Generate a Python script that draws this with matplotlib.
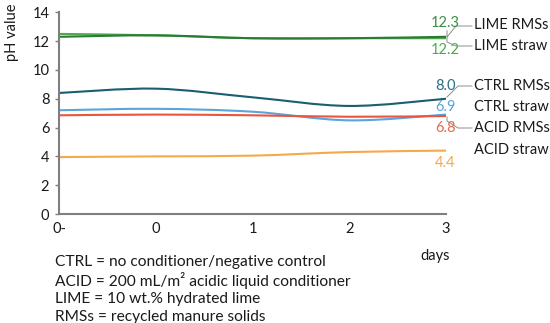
import numpy as np
import matplotlib.pyplot as plt
from matplotlib.path import Path
from matplotlib.patches import PathPatch

plt.rcParams['font.family'] = ['Lato', 'DejaVu Sans']

# Données
jours = ["0-", "0", "1", "2", "3"]
lime_rmss = [12.3, 12.4, 12.2, 12.2, 12.3]
lime_straw = [12.5, 12.4, 12.2, 12.2, 12.2]
ctrl_rmss = [8.4, 8.7, 8.1, 7.5, 8.0]
ctrl_straw = [7.2, 7.3, 7.1, 6.5, 6.9]
acid_rmss = [6.85, 6.9, 6.85, 6.75, 6.8]
acid_straw = [3.95, 4.0, 4.05, 4.3, 4.4]
noms = ["LIME straw", "LIME RMSs", "CTRL RMSs", "CTRL straw", "ACID RMSs", "ACID straw"]
series = [lime_straw, lime_rmss, ctrl_rmss, ctrl_straw, acid_rmss, acid_straw]

couleurs = ["#4daa50", "#2b7a35", "#1b5e70", "#5ba4dc", "#e9553f", "#f7a849"]
couleurs_val = ["#4daa50", "#3a8f48", "#2a6d85", "#5ba4dc", "#e66a4c", "#f5a845"]

# position verticale des étiquettes (pixels depuis le haut)
y_val = {"LIME RMSs": 23, "LIME straw": 50, "CTRL RMSs": 86, "CTRL straw": 107,
         "ACID RMSs": 128, "ACID straw": 163}
y_nom = {"LIME RMSs": 25, "LIME straw": 46, "CTRL RMSs": 86, "CTRL straw": 107,
         "ACID RMSs": 128, "ACID straw": 150}


def courbe_lisse(xs, ys):
    # Bézier façon "ligne lissée" d'Excel
    pts = np.column_stack([xs, ys]).astype(float)
    n = len(pts)
    verts = [pts[0]]
    codes = [Path.MOVETO]
    for i in range(n - 1):
        p0 = pts[max(i - 1, 0)]
        p1 = pts[i]
        p2 = pts[i + 1]
        p3 = pts[min(i + 2, n - 1)]
        c1 = p1 + (p2 - p0) / 6
        c2 = p2 - (p3 - p1) / 6
        verts += [c1, c2, p2]
        codes += [Path.CURVE4] * 3
    return Path(verts, codes)


fig = plt.figure(figsize=(5.5, 3.23), dpi=100)
ax = fig.add_axes([59 / 550, 1 - 214 / 323, 387 / 550, 201.7 / 323])
x = np.arange(len(jours))

for vals, c in zip(series, couleurs):
    ax.add_patch(PathPatch(courbe_lisse(x, vals), facecolor='none', edgecolor=c, lw=1.5))

ax.set_xlim(0, 4)
ax.set_ylim(0, 14)
ax.set_yticks(range(0, 15, 2))
ax.set_xticks(x)
ax.set_xticklabels(jours)
for s in ['top', 'right']:
    ax.spines[s].set_visible(False)
for s in ['left', 'bottom']:
    ax.spines[s].set_color('#7f7f7f')
    ax.spines[s].set_linewidth(1.5)
ax.tick_params(axis='y', length=3, width=1, color='#7f7f7f', labelsize=10.5, pad=4,
               labelcolor='#1a1a1a')
ax.tick_params(axis='x', length=0, labelsize=10.5, pad=6, labelcolor='#1a1a1a')


def px2y(p):
    return (214 - p) / (201.7 / 14)


def px2x(p):
    return (p - 59) / (387 / 4)


# étiquettes de fin de courbe
for nom, vals, c in zip(noms, series, couleurs_val):
    ax.text(px2x(445), px2y(y_val[nom]), f"{vals[-1]:.1f}", color=c, fontsize=10.5,
            ha='center', va='center', clip_on=False)
    ax.text(px2x(474), px2y(y_nom[nom]), nom, color='#1a1a1a', fontsize=10.5,
            ha='left', va='center', clip_on=False)

# traits de rappel
gris = '#8c8c8c'
rappels = [
    [(447, 31), (447, 37), (456, 26), (472, 26)],
    [(447, 37), (447, 42), (456, 46), (472, 46)],
    [(447, 97), (458, 86), (472, 86)],
    [(447, 117), (447, 121), (458, 128), (472, 128)],
]
for r in rappels:
    ax.plot([px2x(p[0]) for p in r], [px2y(p[1]) for p in r], color=gris, lw=0.7,
            clip_on=False)

fig.text(12 / 550, 1 - 32 / 323, "pH value", rotation=90, ha='center', va='center',
         fontsize=10.5, color='#1a1a1a')
fig.text(435 / 550, 1 - 256 / 323, "days", ha='center', va='center', fontsize=10.5,
         color='#1a1a1a')

notes = ["CTRL = no conditioner/negative control",
         "ACID = 200 mL/m² acidic liquid conditioner",
         "LIME = 10 wt.% hydrated lime",
         "RMSs = recycled manure solids"]
for i, t in enumerate(notes):
    fig.text(55 / 550, 1 - (262 + 18.3 * i) / 323, t, ha='left', va='center',
             fontsize=11.2, color='#1a1a1a')

fig.savefig("out.png", dpi=100)
